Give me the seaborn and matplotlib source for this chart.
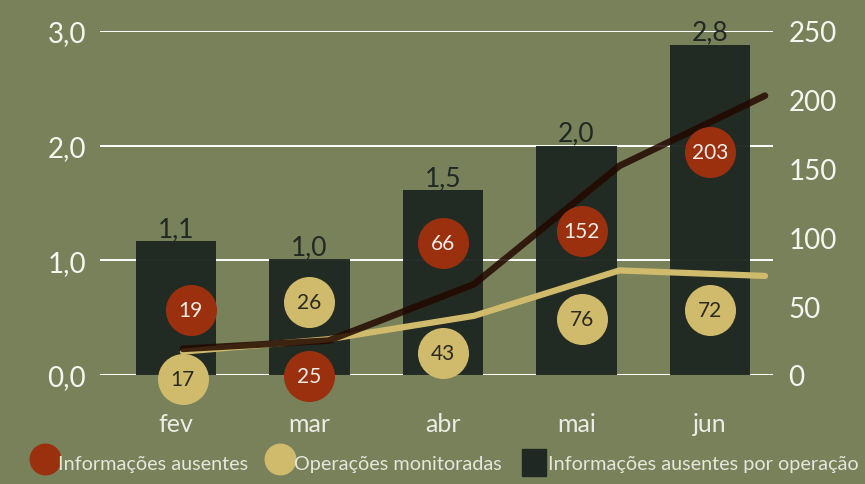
import matplotlib
matplotlib.use('Agg')
import matplotlib.pyplot as plt
import matplotlib.transforms as mtransforms
from matplotlib.lines import Line2D
from matplotlib.patches import Patch
import seaborn as sns
import pandas as pd

# Data
meses = ['fev', 'mar', 'abr', 'mai', 'jun']
info_ausentes = [19, 25, 66, 152, 203]
operacoes = [17, 26, 43, 76, 72]
ausentes_por_op = [1.17, 1.01, 1.61, 2.0, 2.88]
rotulos_por_op = ['1,1', '1,0', '1,5', '2,0', '2,8']

# where the round value labels sit (x offset from bar centre, y in right-axis units)
red_lbl_dx = [0.11, 0, 0, 0.04, 0]
red_lbl_y = [47, -1, 96, 105, 162]
yel_lbl_dx = [0.05, 0, 0, 0.04, 0]
yel_lbl_y = [-3, 53, 16, 41, 47]

bg = '#78815a'
bar_col = '#1f2822'
red = '#9a300e'
yellow = '#d0ba6c'
dark_line = '#220800'
txt = '#f6f6f0'

sns.set_theme(style='white')
plt.rcParams['font.family'] = ['Lato', 'DejaVu Sans']

W, H = 865, 485
fig = plt.figure(figsize=(W / 100, H / 100), dpi=100, facecolor=bg)
L, R, T, B = 100, 773, 32, 376
pos = [L / W, 1 - B / H, (R - L) / W, (B - T) / H]

# bars on the left axis
ax = fig.add_axes(pos)
ax.set_facecolor('none')
df = pd.DataFrame({'mes': meses, 'v': ausentes_por_op})
for g in [0, 1, 2, 3]:
    ax.axhline(g, color='white', lw=2.2 if g == 0 else 1.4, zorder=0)
sns.barplot(data=df, x='mes', y='v', color=bar_col, width=0.6, saturation=1,
            alpha=0.97, ax=ax, zorder=2, linewidth=0, edgecolor='none')
ax.set_xlim(-0.569, 4.472)
ax.set_ylim(0, 3)
ax.set_yticks([0, 1, 2, 3])
ax.set_yticklabels(['0,0', '1,0', '2,0', '3,0'])
ax.tick_params(axis='y', length=0, pad=10, labelsize=20, labelcolor=txt)
ax.tick_params(axis='x', length=0, pad=27, labelsize=18, labelcolor='#ecece6')
ax.set_xlabel('')
ax.set_ylabel('')
for s in ax.spines.values():
    s.set_visible(False)
for i, v in enumerate(ausentes_por_op):
    ax.annotate(rotulos_por_op[i], (i, v), xytext=(0, 0),
                textcoords='offset points', ha='center', va='bottom',
                fontsize=19, color=bar_col, zorder=5)

# lines on the right axis (own x range)
ax2 = fig.add_axes(pos)
ax2.set_facecolor('none')
ldf = pd.DataFrame({'x': range(len(meses)), 'a': info_ausentes, 'o': operacoes})
sns.lineplot(data=ldf, x='x', y='o', color=yellow, lw=4.5, ax=ax2,
             solid_capstyle='round', zorder=3)
sns.lineplot(data=ldf, x='x', y='a', color=dark_line, lw=4.8, alpha=0.85,
             ax=ax2, solid_capstyle='round', zorder=4)
ax2.set_xlim(-0.570, 4.055)
ax2.set_ylim(0, 250)
ax2.set_xticks([])
ax2.yaxis.tick_right()
ax2.set_yticks([0, 50, 100, 150, 200, 250])
ax2.tick_params(axis='y', length=0, pad=11, labelsize=20, labelcolor=txt)
ax2.set_xlabel('')
ax2.set_ylabel('')
for s in ax2.spines.values():
    s.set_visible(False)

# round value labels, x from bars, y from right axis
tr = mtransforms.blended_transform_factory(ax.transData, ax2.transData)
for i in range(len(meses)):
    for dx, y, v, c, tc in [(red_lbl_dx[i], red_lbl_y[i], info_ausentes[i], red, '#f4ece6'),
                            (yel_lbl_dx[i], yel_lbl_y[i], operacoes[i], yellow, '#2a2a20')]:
        ax2.scatter([i + dx], [y], s=1350, color=c, transform=tr, zorder=6,
                    clip_on=False, linewidths=0)
        ax2.text(i + dx, y, str(v), transform=tr, ha='center', va='center',
                 fontsize=15, color=tc, zorder=7, clip_on=False)

handles = [Line2D([], [], marker='o', ls='', markersize=22, color=red),
           Line2D([], [], marker='o', ls='', markersize=22, color=yellow),
           Patch(color=bar_col)]
fig.legend(handles, ['Informações ausentes', 'Operações monitoradas',
                     'Informações ausentes por operação'],
           loc='lower center', bbox_to_anchor=(0.515, -0.02), ncol=3, frameon=False,
           fontsize=14.3, labelcolor='#e6e6dc', handletextpad=0.1,
           columnspacing=1.0, handlelength=1.2, handleheight=1.7)

fig.savefig('out.png', dpi=100, facecolor=bg)
